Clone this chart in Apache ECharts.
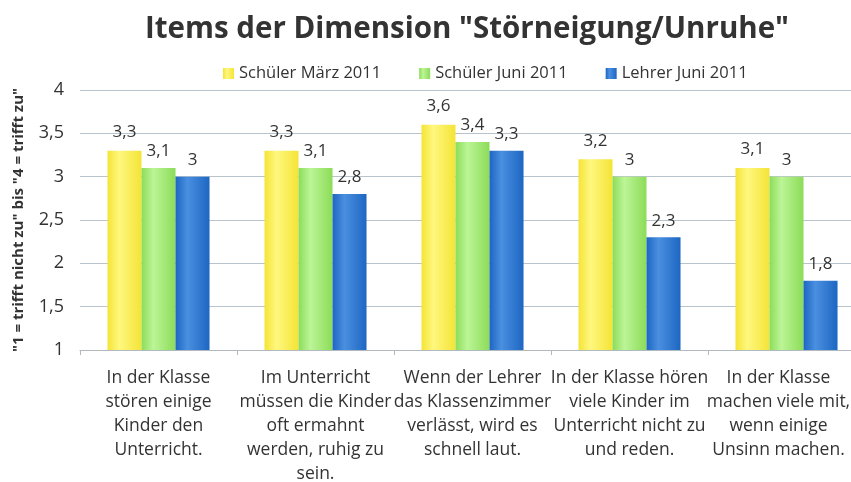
<!DOCTYPE html>
<html>
<head>
<meta charset="utf-8">
<script src="https://cdn.jsdelivr.net/npm/echarts@6/dist/echarts.min.js"></script>
<style>
  html, body { margin: 0; padding: 0; background: #fff; }
  #chart { width: 851px; height: 482px; }
</style>
</head>
<body>
<div id="chart"></div>
<script>
const categories = [
  "In der Klasse\nstören einige\nKinder den\nUnterricht.",
  "Im Unterricht\nmüssen die Kinder\noft ermahnt\nwerden, ruhig zu\nsein.",
  "Wenn der Lehrer\ndas Klassenzimmer\nverlässt, wird es\nschnell laut.",
  "In der Klasse hören\nviele Kinder im\nUnterricht nicht zu\nund reden.",
  "In der Klasse\nmachen viele mit,\nwenn einige\nUnsinn machen."
];
const seriesNames = ["Schüler März 2011", "Schüler Juni 2011", "Lehrer Juni 2011"];
const schuelerMaerz = [3.3, 3.3, 3.6, 3.2, 3.1];
const schuelerJuni = [3.1, 3.1, 3.4, 3.0, 3.0];
const lehrerJuni = [3.0, 2.8, 3.3, 2.3, 1.8];

const font = "'Open Sans', 'Noto Sans', sans-serif";
const fmt = v => String(v).replace(".", ",");

function grad(dark, light) {
  return new echarts.graphic.LinearGradient(0, 0, 1, 0, [
    { offset: 0, color: dark },
    { offset: 0.35, color: light },
    { offset: 1, color: dark }
  ]);
}
const colors = [
  grad("#f4e436", "#fff77e"),
  grad("#8cdc58", "#bcf597"),
  grad("#1d66c2", "#4a8fe0")
];
const legendColors = ["#f3e64a", "#9be26e", "#2b75cf"];

// the last label sits a bit left of its slot in the original
const categoryItems = categories.map((c, i) =>
  i === categories.length - 1 ? { value: c, textStyle: { padding: [0, 16, 0, 0] } } : c
);

const chart = echarts.init(document.getElementById("chart"));
const makeSeries = (name, data, i) => ({
  name: name,
  type: "bar",
  data: data,
  barGap: 0,
  barCategoryGap: "35%",
  itemStyle: { color: colors[i] },
  label: {
    show: true,
    position: "top",
    distance: i === 0 ? 10 : 8,
    formatter: p => fmt(p.value),
    fontFamily: font,
    fontSize: 17,
    color: "#333"
  }
});

chart.setOption({
  animation: false,
  color: legendColors,
  title: {
    text: 'Items der Dimension "Störneigung/Unruhe"',
    left: 462,
    textAlign: "center",
    top: 10,
    textStyle: { fontFamily: font, fontSize: 29.5, fontWeight: "bold", color: "#333" }
  },
  legend: {
    data: seriesNames,
    top: 60,
    left: 218,
    itemWidth: 11,
    itemHeight: 11,
    itemGap: 38,
    icon: "rect",
    textStyle: { fontFamily: font, fontSize: 16.5, color: "#333" }
  },
  grid: { left: 80, width: 785, top: 90, bottom: 132, outerBoundsMode: "none", containLabel: false },
  xAxis: {
    type: "category",
    data: categoryItems,
    axisLine: { lineStyle: { color: "#b0b8c0" } },
    axisTick: { show: true, lineStyle: { color: "#b0b8c0" } },
    axisLabel: {
      interval: 0,
      fontFamily: font,
      fontSize: 17.5,
      lineHeight: 24,
      color: "#333",
      margin: 16
    }
  },
  yAxis: {
    type: "value",
    min: 1,
    max: 4,
    interval: 0.5,
    name: '"1 = trifft nicht zu" bis "4 = trifft zu"',
    nameLocation: "middle",
    nameGap: 54,
    nameTextStyle: { fontFamily: font, fontSize: 15, fontWeight: "bold", color: "#333" },
    axisLine: { show: false },
    axisTick: { show: false },
    axisLabel: { formatter: fmt, fontFamily: font, fontSize: 18, color: "#333", margin: 16 },
    splitLine: { lineStyle: { color: "#b9c3cb" } }
  },
  series: [
    makeSeries(seriesNames[0], schuelerMaerz, 0),
    makeSeries(seriesNames[1], schuelerJuni, 1),
    makeSeries(seriesNames[2], lehrerJuni, 2)
  ]
});
</script>
</body>
</html>
